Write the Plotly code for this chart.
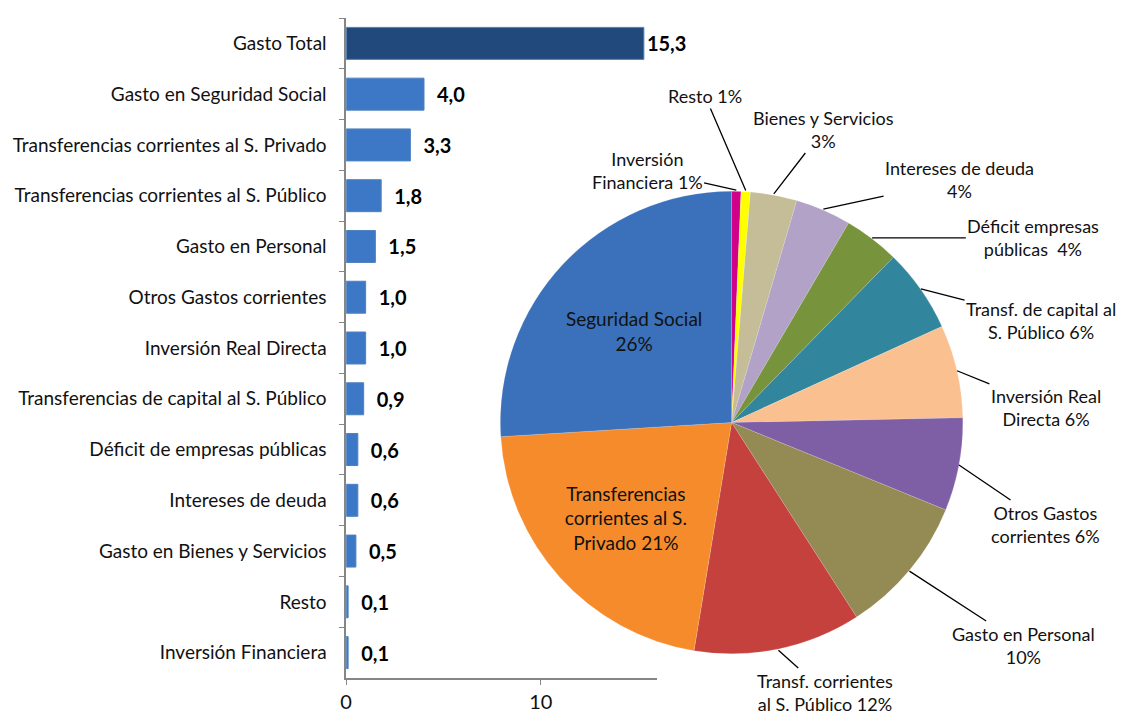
import math
import plotly.graph_objects as go

# barras: gasto por concepto
categorias = ['Gasto Total', 'Gasto en Seguridad Social', 'Transferencias corrientes al S. Privado',
              'Transferencias corrientes al S. Público', 'Gasto en Personal', 'Otros Gastos corrientes',
              'Inversión Real Directa', 'Transferencias de capital al S. Público',
              'Déficit de empresas públicas', 'Intereses de deuda', 'Gasto en Bienes y Servicios',
              'Resto', 'Inversión Financiera']
valores = [15.3, 4.0, 3.3, 1.8, 1.5, 1.0, 1.0, 0.9, 0.6, 0.6, 0.5, 0.1, 0.1]

# torta: en sentido horario desde las 12
pie_nombres = ['Inversión<br>Financiera', 'Resto', 'Bienes y Servicios', 'Intereses de deuda',
               'Déficit empresas<br>públicas ', 'Transf. de capital al<br>S. Público',
               'Inversión Real<br>Directa', 'Otros Gastos<br>corrientes', 'Gasto en Personal',
               'Transf. corrientes<br>al S. Público', 'Transferencias<br>corrientes al S.<br>Privado',
               'Seguridad Social']
pie_valores = [0.1, 0.1, 0.5, 0.6, 0.6, 0.9, 1.0, 1.0, 1.5, 1.8, 3.3, 4.0]
pie_colores = ['#D1008A', '#FFFF00', '#C4BD97', '#B2A2C7', '#77933C', '#31859C', '#FAC090',
               '#7E5FA5', '#948A54', '#C4413D', '#F68B2C', '#3A71BA']
dentro = [False] * 10 + [True, True]
# separador entre nombre y porcentaje
sep = [' ', ' ', '<br>', '<br>', ' ', ' ', ' ', ' ', '<br>', ' ', ' ', '<br>']
# posición de los rótulos externos (px)
rotulo_pos = [(645, 170), (703, 96), (822, 129), (958, 180), (1032, 238), (1040, 320),
              (1045, 407), (1045, 524), (1022, 645), (823, 692), None, None]

W, H = 1121, 717
FONT = 'Lato'

total = sum(pie_valores)
pct = [round(v / total * 100) for v in pie_valores]

fig = go.Figure()

fig.add_trace(go.Bar(
    y=categorias, x=valores, orientation='h',
    marker=dict(color=['#22497C'] + ['#3D78C6'] * (len(valores) - 1),
                line=dict(color='#4F81BD', width=1)),
    text=[('' if v > 14 else '\u2002') + f'{v:.1f}'.replace('.', ',') for v in valores],
    textposition='outside', cliponaxis=False,
    textfont=dict(family=FONT, size=20, color='black', weight='bold'),
    showlegend=False, hoverinfo='skip'))

# torta
cx0, cx1, cy0, cy1 = 497, 962, 190, 655
pie_text = [f'{n}{s}{p}%' if d else '' for n, s, p, d in zip(pie_nombres, sep, pct, dentro)]
fig.add_trace(go.Pie(
    labels=[n.replace('<br>', ' ') for n in pie_nombres], values=pie_valores,
    sort=False, direction='clockwise', rotation=0,
    marker=dict(colors=pie_colores, line=dict(color='rgba(255,255,255,0.3)', width=0.5)),
    text=pie_text, texttemplate='%{text}', textposition='inside',
    insidetextorientation='horizontal',
    textfont=dict(family=FONT, size=19, color='#111111'),
    domain=dict(x=[cx0 / W, cx1 / W], y=[1 - cy1 / H, 1 - cy0 / H]),
    showlegend=False, hoverinfo='skip'))

# rótulos externos con líneas guía
R = min(cx1 - cx0, cy1 - cy0) / 2
cx, cy = (cx0 + cx1) / 2, (cy0 + cy1) / 2
acum = 0
for i, v in enumerate(pie_valores):
    mid = (acum + v / 2) / total * 2 * math.pi
    acum += v
    if dentro[i]:
        continue
    tx, ty = cx + R * math.sin(mid), cy - R * math.cos(mid)
    lx, ly = rotulo_pos[i]
    fig.add_annotation(
        x=tx / W, y=1 - ty / H, xref='paper', yref='paper',
        ax=lx - tx, ay=ly - ty, axref='pixel', ayref='pixel',
        text=f'{pie_nombres[i]}{sep[i]}{pct[i]}%', showarrow=True,
        arrowhead=0, arrowwidth=1.3, arrowcolor='black', standoff=0,
        font=dict(family=FONT, size=18, color='#111111'), align='center')

fig.update_layout(
    width=W, height=H, margin=dict(l=0, r=0, t=0, b=0),
    plot_bgcolor='white', paper_bgcolor='white', bargap=0.37,
    font=dict(family=FONT, size=19, color='#111111'),
    xaxis=dict(domain=[342 / W, 655 / W], range=[0, 16], tickvals=[0, 10],
               showgrid=False, zeroline=False, showline=True, linecolor='#868686',
               linewidth=1.5, ticks='outside', ticklen=5, tickcolor='#868686',
               tickfont=dict(size=20)),
    yaxis=dict(domain=[1 - 678 / H, 1 - 18 / H], autorange='reversed', automargin=False,
               showgrid=False, showline=True, linecolor='#868686', linewidth=1.5,
               ticks='outside', tickson='boundaries', ticklen=5, tickcolor='#868686',
               ticklabelstandoff=14, tickfont=dict(size=19)),
)

fig.write_html('out.html', config={'displayModeBar': False},
               post_script="document.body.style.margin='0';")
